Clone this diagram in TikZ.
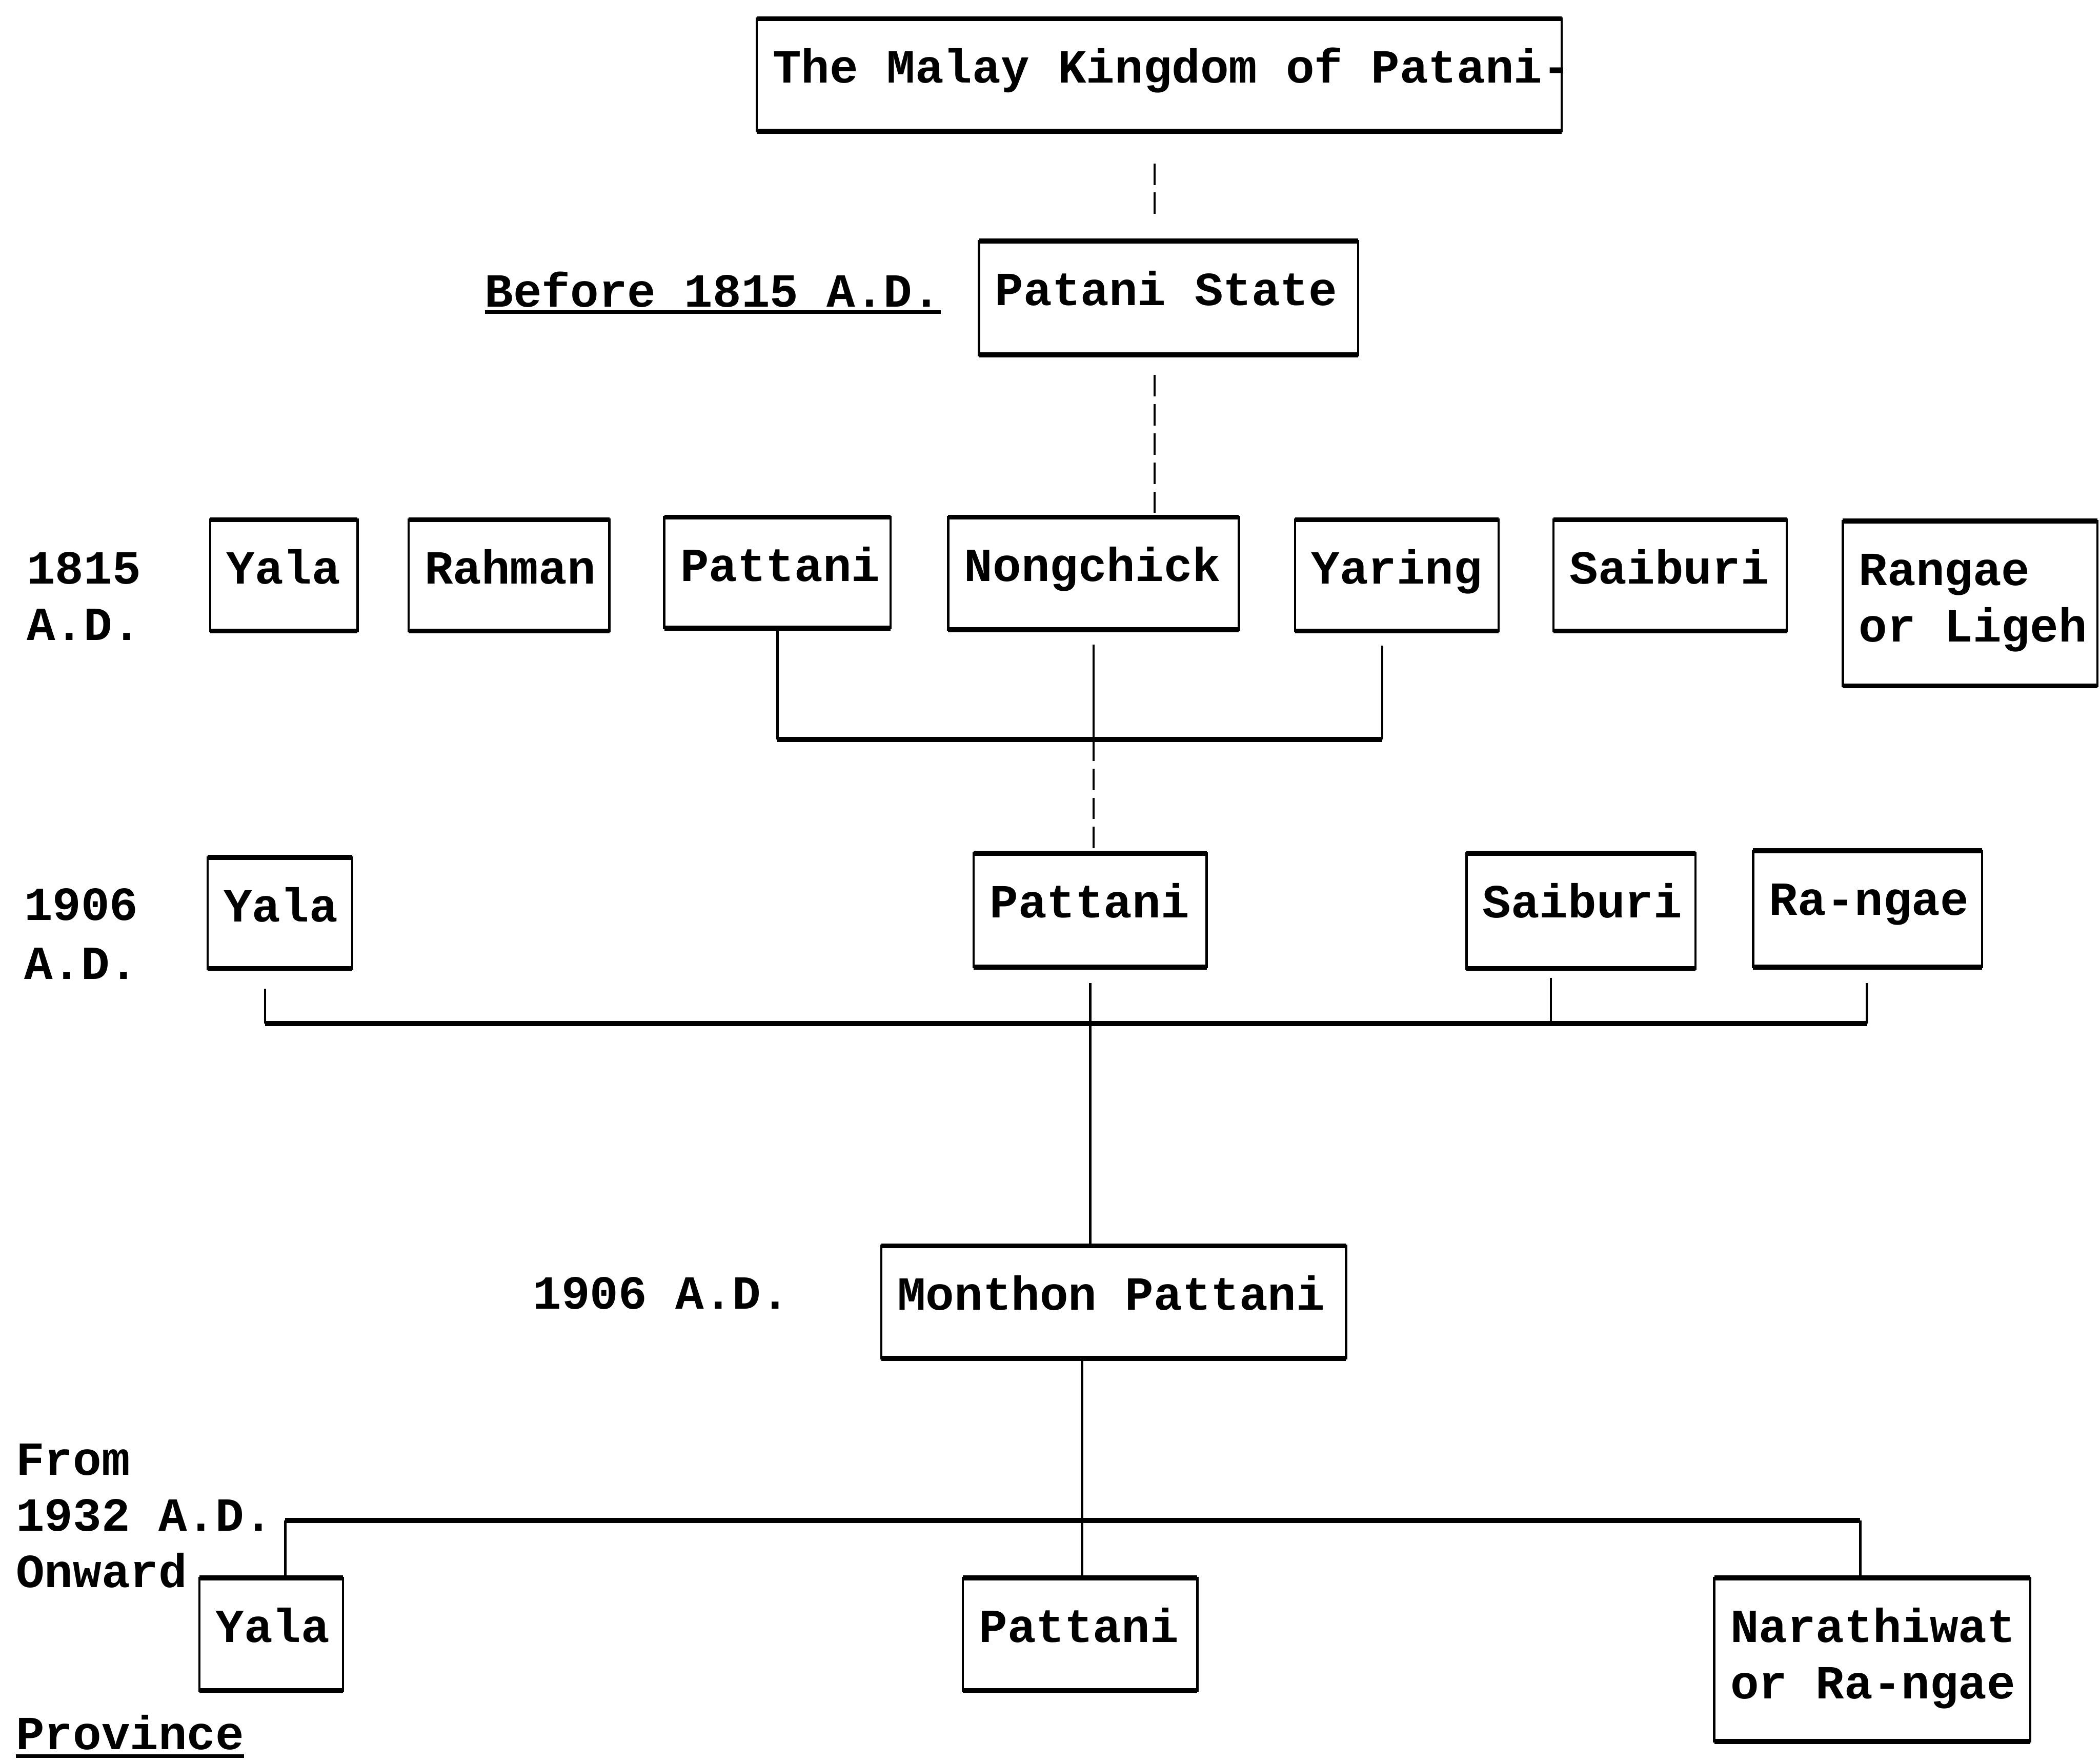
\documentclass[tikz,border=0pt]{standalone}
\usepackage{fontspec}
\setmainfont{Liberation Mono}
\usetikzlibrary{calc}
\def\pxu{0.03072cm}
\tikzset{
  box/.style={draw, line width=1.5pt, inner sep=0pt, outer sep=0pt, anchor=north west},
  hl/.style={line width=3.2pt},
  vl/.style={line width=1.5pt},
  dl/.style={line width=1.5pt, dash pattern=on 14pt off 5pt},
  lbl/.style={inner sep=0pt, outer sep=0pt, anchor=base west, font=\bfseries\fontsize{31}{37}\selectfont},
}
\newcommand\tbox[6]{%
  \node[box, minimum width={(#4-#2)*\pxu}, minimum height={(#5-#3)*\pxu}] (#1) at (#2,#3) {};
  \draw[hl] (#1.north west) -- (#1.north east);
  \draw[hl] (#1.south west) -- (#1.south east);
  \node[lbl] (#1-a) at (#2+12,#3+48) {#6};
}
\newcommand\tboxb[7]{%
  \tbox{#1}{#2}{#3}{#4}{#5}{#6}
  \node[lbl] (#1-b) at (#2+12,#3+90) {#7};
}
\begin{document}
\begin{tikzpicture}[x=\pxu, y=-\pxu]
\fill[white] (0,0) rectangle (1568,1315);
\useasboundingbox (0,0) rectangle (1568,1315);

% top
\tbox{king}{565}{14}{1166}{98}{The Malay Kingdom of Patani-}
\tbox{ps}{731}{180}{1014}{265}{Patani State}
\node[lbl] (before) at (362,229) {Before 1815 A.D.};
\draw[line width=2.5pt] ($(before.base west)+(0,4)$) -- ($(before.base east)+(0,4)$);

% 1815
\node[lbl] (d1a) at (20,436) {1815};
\node[lbl] (d1b) at (20,478) {A.D.};
\tbox{yala1}{157}{388}{267}{471}{Yala}
\tbox{rah}{305}{388}{455}{471}{Rahman}
\tbox{pat1}{496}{386}{665}{469}{Pattani}
\tbox{nong}{708}{386}{925}{470}{Nongchick}
\tbox{yar}{967}{388}{1119}{471}{Yaring}
\tbox{sai1}{1160}{388}{1334}{471}{Saiburi}
\tboxb{ran}{1376}{389}{1566}{512}{Rangae}{or Ligeh}

% 1906
\node[lbl] (d2a) at (18,687) {1906};
\node[lbl] (d2b) at (18,731) {A.D.};
\tbox{yala2}{155}{640}{263}{723}{Yala}
\tbox{pat2}{727}{637}{901}{722}{Pattani}
\tbox{sai2}{1095}{637}{1266}{723}{Saiburi}
\tbox{ra2}{1309}{635}{1480}{722}{Ra-ngae}

% Monthon
\node[lbl] (d3) at (398,977) {1906 A.D.};
\tbox{mon}{658}{930}{1005}{1014}{Monthon Pattani}

% 1932
\node[lbl] (d4a) at (12,1101) {From};
\node[lbl] (d4b) at (12,1143) {1932 A.D.};
\node[lbl] (d4c) at (12,1185) {Onward};
\tbox{yala3}{149}{1178}{256}{1262}{Yala}
\tbox{pat3}{719}{1178}{894}{1262}{Pattani}
\tboxb{nar}{1280}{1178}{1516}{1300}{Narathiwat}{or Ra-ngae}
\node[lbl] (prov) at (12,1306) {Province};
\draw[line width=2.5pt] ($(prov.base west)+(0,5)$) -- ($(prov.base east)+(0,5)$);

% connectors top
\coordinate (sx1) at (862,0);
\draw[dl, shorten <={24*\pxu}, shorten >={15*\pxu}] (sx1 |- king.south) -- (sx1 |- ps.north);
\draw[dl, shorten <={15*\pxu}] (sx1 |- ps.south) -- (sx1 |- nong.north);

% bracket 1815
\coordinate (b1) at (0,552);
\coordinate (yx) at (1032,0);
\draw[vl] (pat1.south) -- (pat1.south |- b1);
\draw[hl] (pat1.south |- b1) -- (yx |- b1);
\draw[vl, shorten >={11*\pxu}] (yx |- b1) -- (yx |- yar.south);
\draw[vl, shorten <={11*\pxu}] (nong.south) -- (nong.south |- b1);
\draw[dl] (nong.south |- b1) -- (nong.south |- pat2.north);

% bracket 1906
\coordinate (b2) at (0,764);
\coordinate (x21) at (198,0);
\coordinate (x22) at (1158,0);
\coordinate (x23) at (1394,0);
\draw[vl, shorten <={15*\pxu}] (x21 |- yala2.south) -- (x21 |- b2);
\draw[hl] (x21 |- b2) -- (x23 |- b2);
\draw[vl, shorten <={7*\pxu}] (x22 |- sai2.south) -- (x22 |- b2);
\draw[vl, shorten <={12*\pxu}] (x23 |- ra2.south) -- (x23 |- b2);
\draw[vl, shorten <={12*\pxu}] (pat2.south) -- (pat2.south |- mon.north);

% 1932
\coordinate (b3) at (0,1135);
\coordinate (x31) at (213,0);
\coordinate (x32) at (808,0);
\coordinate (x33) at (1389,0);
\draw[vl] (x32 |- mon.south) -- (x32 |- pat3.north);
\draw[hl] (x31 |- b3) -- (x33 |- b3);
\draw[vl] (x31 |- b3) -- (x31 |- yala3.north);
\draw[vl] (x33 |- b3) -- (x33 |- nar.north);
\end{tikzpicture}
\end{document}
